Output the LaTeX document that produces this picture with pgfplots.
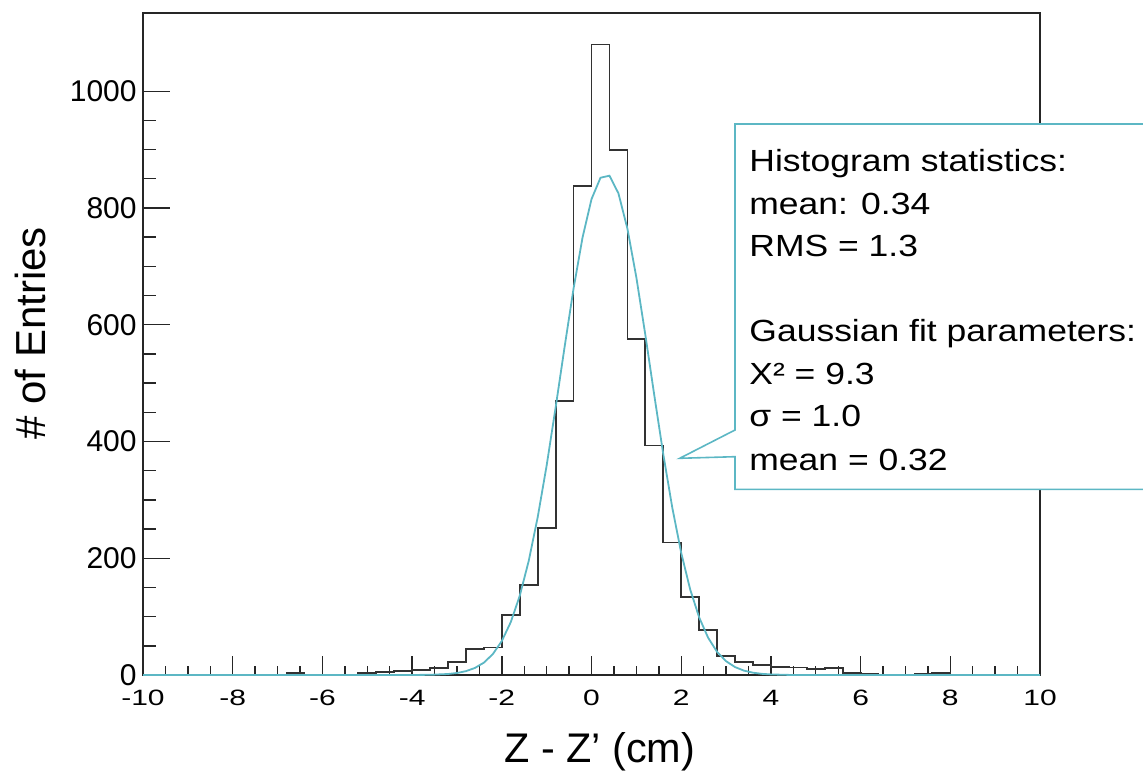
\documentclass[border=0pt]{standalone}
\usepackage{pgfplots}
\pgfplotsset{compat=1.18}
\usepackage{fontspec}
\setmainfont{Liberation Sans}
\usepackage{graphicx}
\definecolor{fitteal}{RGB}{92,183,196}
\definecolor{histgray}{RGB}{50,50,50}
\begin{document}
\begin{tikzpicture}
\begin{scope}[shift={(-71.5bp,337.5bp)},x=0.5bp,y=-0.5bp]
\useasboundingbox (0,0) rectangle (1143,772);
\end{scope}
% x-axis ticks (shorter)
\begin{axis}[
  at={(0,0)}, anchor=south west,
  scale only axis, width=448.5bp, height=331bp,
  xmin=-10, xmax=10, ymin=0, ymax=1134,
  axis line style={line width=0.75bp, black!85},
  tick style={line width=0.7bp, black!85},
  tick align=inside,
  xtick={-10,-8,-6,-4,-2,0,2,4,6,8,10},
  xticklabels={\scalebox{1}[0.74]{-10},\scalebox{1}[0.74]{-8},\scalebox{1}[0.74]{-6},\scalebox{1}[0.74]{-4},\scalebox{1}[0.74]{-2},\scalebox{1}[0.74]{0},\scalebox{1}[0.74]{2},\scalebox{1}[0.74]{4},\scalebox{1}[0.74]{6},\scalebox{1}[0.74]{8},\scalebox{1}[0.74]{10}},
  minor x tick num=3,
  xtick pos=bottom,
  ytick=\empty,
  major tick length=9.5bp, minor tick length=4.5bp,
  xticklabel style={font=\fontsize{15bp}{18bp}\selectfont, anchor=base, inner sep=0pt, yshift=-15.3bp},
]
\end{axis}
% main axis with y ticks and data
\begin{axis}[
  at={(0,0)}, anchor=south west,
  scale only axis, width=448.5bp, height=331bp,
  xmin=-10, xmax=10, ymin=0, ymax=1134,
  axis line style={line width=0.75bp, black!85},
  tick style={line width=0.7bp, black!85},
  tick align=inside,
  xtick=\empty,
  ytick={0,200,400,600,800,1000},
  yticklabels={0,200,400,600,800,1000},
  minor y tick num=3,
  ytick pos=left,
  major tick length=13.5bp, minor tick length=6.5bp,
  yticklabel style={font=\fontsize{15bp}{18bp}\selectfont, anchor=east, inner sep=0pt, xshift=-3bp},
]
\addplot[const plot mark left, histgray, line width=0.9bp] coordinates {
(-10,0)(-9.6,0)(-9.2,0)(-8.8,0)(-8.4,0)(-8.0,0)(-7.6,1)(-7.2,0)(-6.8,4)(-6.4,1)
(-6.0,1)(-5.6,1)(-5.2,4)(-4.8,5)(-4.4,7)(-4.0,9)(-3.6,12)(-3.2,22)(-2.8,44)(-2.4,47)
(-2.0,103)(-1.6,154)(-1.2,252)(-0.8,470)(-0.4,837)(0.0,1080)(0.4,900)(0.8,575)(1.2,393)(1.6,227)
(2.0,134)(2.4,77)(2.8,32)(3.2,22)(3.6,17)(4.0,14)(4.4,13)(4.8,11)(5.2,12)(5.6,3)
(6.0,2)(6.4,1)(6.8,1)(7.2,2)(7.6,3)(8.0,1)(8.4,0)(8.8,0)(9.2,0)(9.6,0)(10,0)};
\addplot[fitteal, line width=0.9bp] coordinates {
(-10,0)(-6,0)(-5,0)(-4.4,0.02)(-4.0,0.08)(-3.6,0.39)(-3.2,1.75)(-3.0,3.47)(-2.8,6.6)(-2.6,12.1)
(-2.4,21.2)(-2.2,35.9)(-2.0,58.2)(-1.8,90.7)(-1.6,135.8)(-1.4,195.5)(-1.2,270.3)(-1.0,359.1)
(-0.8,458.4)(-0.6,562.1)(-0.4,662.2)(-0.2,749.5)(0.0,815.2)(0.2,851.8)(0.4,855.3)(0.6,825.1)
(0.8,764.7)(1.0,680.9)(1.2,582.6)(1.4,478.9)(1.6,378.2)(1.8,287.0)(2.0,209.2)(2.2,146.5)
(2.4,98.7)(2.6,63.8)(2.8,39.6)(3.0,23.7)(3.2,13.6)(3.4,7.5)(3.6,4.0)(3.8,2.0)(4.0,1.0)
(4.4,0.2)(5,0)(6,0)(10,0)};
\end{axis}
\begin{scope}[shift={(-71.5bp,337.5bp)},x=0.5bp,y=-0.5bp]
\clip (0,0) rectangle (1143,772);
\draw[fitteal, line width=0.8bp, fill=white]
  (735,124) -- (1170,124) -- (1170,489.3) -- (735,489.3) -- (735,456.7)
  -- (679.7,458.3) -- (735,430) -- cycle;
\tikzset{cl/.style={anchor=base west, inner sep=0pt, font=\fontsize{15.3bp}{18bp}\selectfont}}
\node[cl] at (749,171.7) {\scalebox{1.16}[1]{Histogram statistics:}};
\node[cl] at (749,215) {\scalebox{1.16}[1]{mean: 0.34}};
\node[cl] at (749,256.7) {\scalebox{1.16}[1]{RMS = 1.3}};
\node[cl] at (749,341.7) {\scalebox{1.16}[1]{Gaussian fit parameters:}};
\node[cl] at (749,385) {\scalebox{1.16}[1]{X² = 9.3}};
\node[cl] at (749,426.7) {\scalebox{1.16}[1]{σ = 1.0}};
\node[cl] at (749,470) {\scalebox{1.16}[1]{mean = 0.32}};
\node[anchor=base west, inner sep=0pt, font=\fontsize{20.7bp}{24bp}\selectfont] at (504,762.7) {Z - Z’ (cm)};
\node[anchor=base west, inner sep=0pt, rotate=90, font=\fontsize{21bp}{24bp}\selectfont] at (46,440) {\# of Entries};
\end{scope}
\end{tikzpicture}
\end{document}
